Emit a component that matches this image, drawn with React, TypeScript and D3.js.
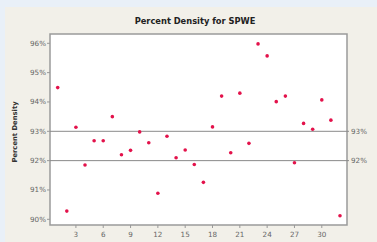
import React from "react";
import * as d3 from "d3";

const observations = [
  1, 2, 3, 4, 5, 6, 7, 8, 9, 10, 11, 12, 13, 14, 15, 16, 17, 18, 19, 20, 21, 22, 23, 24, 25, 26, 27, 28, 29, 30, 31, 32,
];
const density = [
  94.49, 90.28, 93.14, 91.85, 92.68, 92.68, 93.5, 92.2, 92.35, 92.98, 92.61, 90.89, 92.83, 92.1, 92.36, 91.87,
  91.26, 93.15, 94.2, 92.27, 94.3, 92.59, 95.98, 95.57, 94.01, 94.2, 91.93, 93.27, 93.07, 94.07, 93.38, 90.12,
];
const xTicks = [3, 6, 9, 12, 15, 18, 21, 24, 27, 30];
const yTicks = [90, 91, 92, 93, 94, 95, 96];
const refLines = [93, 92];

const W = 377;
const H = 242;
const L = 50, R = 347, T = 34, B = 225;

export default function App() {
  const x = d3.scaleLinear().domain([1, 32]).range([57.7, 340]);
  const y = d3.scaleLinear().domain([90, 96]).range([219.3, 43.3]);
  const font = "'DejaVu Sans', Verdana, sans-serif";
  return (
    <div style={{ position: "absolute", left: 0, top: 0 }}>
      <svg width={W} height={H} style={{ display: "block" }}>
        <rect x={0} y={0} width={W} height={H} fill="#e9f0f8" />
        <rect x={5} y={7} width={W - 5} height={H - 7} fill="#f2f0e9" />
        <rect x={L} y={T} width={R - L} height={B - T} fill="#ffffff" stroke="#9a9a9a" strokeWidth={1.5} />
        <text x={195} y={24} textAnchor="middle" fontFamily={font} fontSize={8.3} fontWeight="bold" fill="#222">
          Percent Density for SPWE
        </text>
        <text
          transform={`translate(17,${132}) rotate(-90)`}
          textAnchor="middle"
          fontFamily={font}
          fontSize={6.8}
          fontWeight="bold"
          fill="#333"
        >
          Percent Density
        </text>
        {yTicks.map((t) => (
          <g key={t}>
            <line x1={L - 3} x2={L} y1={y(t)} y2={y(t)} stroke="#999" />
            <text x={L - 4} y={y(t) + 2.5} textAnchor="end" fontFamily={font} fontSize={7.2} fill="#666">
              {t}%
            </text>
          </g>
        ))}
        {xTicks.map((t) => (
          <g key={t}>
            <line x1={x(t)} x2={x(t)} y1={B} y2={B + 3} stroke="#999" />
            <text x={x(t)} y={B + 12} textAnchor="middle" fontFamily={font} fontSize={7.2} fill="#666">
              {t}
            </text>
          </g>
        ))}
        {refLines.map((r) => (
          <g key={r}>
            <line x1={L} x2={R + 2} y1={y(r)} y2={y(r)} stroke="#8a8a8a" strokeWidth={1} />
            <text x={R + 4} y={y(r) + 2.5} fontFamily={font} fontSize={7.2} fill="#666">
              {r}%
            </text>
          </g>
        ))}
        {observations.map((o, i) => (
          <circle key={o} cx={x(o)} cy={y(density[i])} r={1.8} fill="#e3124b" />
        ))}
      </svg>
    </div>
  );
}
